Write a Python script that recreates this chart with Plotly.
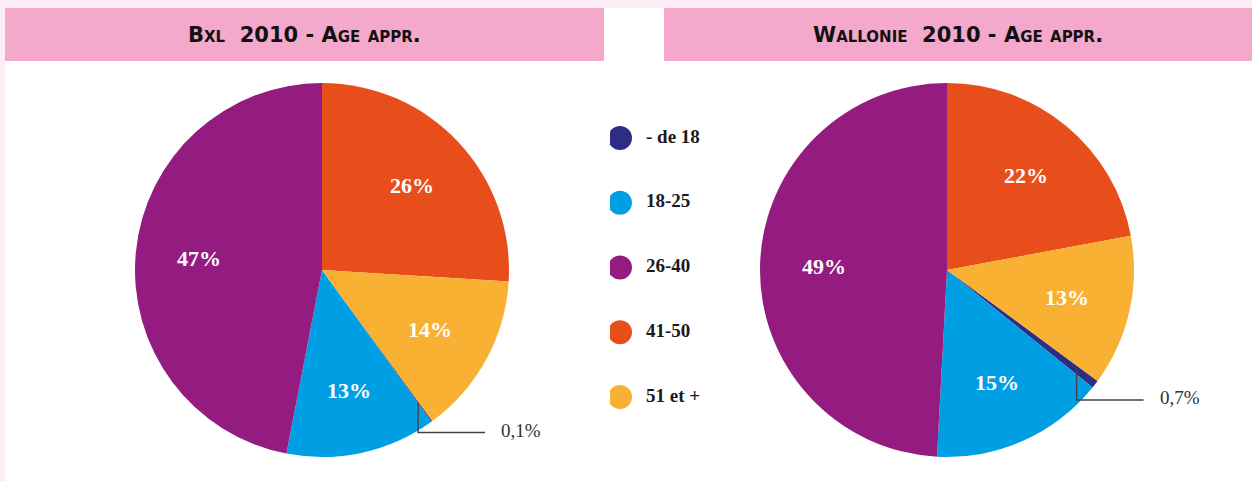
import math
import plotly.graph_objects as go

W, H = 1252, 481

# ── Data ─────────────────────────────────────────────────────────────────────
AGE_GROUPS = ["- de 18", "18-25", "26-40", "41-50", "51 et +"]
BXL_PCT = [0.1, 13, 47, 26, 14]
WAL_PCT = [0.7, 15, 49, 22, 13]
BXL_LABELS = ["0,1%", "13%", "47%", "26%", "14%"]
WAL_LABELS = ["0,7%", "15%", "49%", "22%", "13%"]
TITLES = ["Bxl  2010 - Age appr.", "Wallonie  2010 - Age appr."]

# ── Style ────────────────────────────────────────────────────────────────────
COLORS = ["#2e2d84", "#009fe3", "#941b80", "#e84e1b", "#f8b133"]
PAGE_PINK = "#fcecf5"
BAR_PINK = "#f4a8cb"
SERIF = "Liberation Serif, DejaVu Serif, serif"
TITLE_FONT = "DejaVu Sans, sans-serif"

PIE_R = 187
LABEL_R = 0.66
CENTERS = [(322, 270), (947, 270)]


def px_x(x):
    return x / W


def px_y(y):
    return 1 - y / H


def start_angle(values):
    # slices 41-50 and 51+ sit right of 12 o'clock, the list starts after them
    return 360 * (values[3] + values[4]) / sum(values)


def mid_angles(values):
    """Clockwise angle (deg from 12 o'clock) of each slice's middle."""
    total = sum(values)
    angle = start_angle(values)
    mids = []
    for v in values:
        span = 360 * v / total
        mids.append(angle + span / 2)
        angle += span
    return mids


def pie_trace(values, center):
    cx, cy = center
    return go.Pie(
        labels=AGE_GROUPS,
        values=values,
        textinfo="none",
        marker=dict(colors=COLORS, line=dict(width=0)),
        sort=False,
        direction="clockwise",
        rotation=start_angle(values),
        showlegend=False,
        hoverinfo="label+percent",
        domain=dict(
            x=[px_x(cx - PIE_R), px_x(cx + PIE_R)],
            y=[px_y(cy + PIE_R), px_y(cy - PIE_R)],
        ),
    )


def slice_labels(fig, values, labels, center):
    cx, cy = center
    mids = mid_angles(values)
    for v, lab, a in zip(values, labels, mids):
        if v < 1:
            continue
        a = math.radians(a)
        fig.add_annotation(
            text=lab,
            xref="paper", yref="paper",
            x=px_x(cx + PIE_R * LABEL_R * math.sin(a)),
            y=px_y(cy - PIE_R * LABEL_R * math.cos(a)),
            xanchor="center", yanchor="middle",
            showarrow=False,
            font=dict(family=SERIF, size=22, color="white", weight="bold"),
        )


def callout(fig, values, labels, center):
    """Leader line and label for the tiny first slice."""
    cx, cy = center
    mid = math.radians(mid_angles(values)[0])
    x0 = cx + PIE_R * 0.875 * math.sin(mid)
    y0 = cy - PIE_R * 0.875 * math.cos(mid)
    y1 = y0 + 30
    x1 = x0 + 67
    fig.add_shape(
        type="path",
        path=f"M {px_x(x0)},{px_y(y0)} L {px_x(x0)},{px_y(y1)} L {px_x(x1)},{px_y(y1)}",
        xref="paper", yref="paper",
        line=dict(color="#444444", width=1.5),
    )
    fig.add_annotation(
        text=labels[0],
        xref="paper", yref="paper",
        x=px_x(x1 + 14), y=px_y(y1 - 2),
        xanchor="left", yanchor="middle",
        showarrow=False,
        font=dict(family=SERIF, size=19, color="#333333"),
    )


fig = go.Figure()
fig.add_trace(pie_trace(BXL_PCT, CENTERS[0]))
fig.add_trace(pie_trace(WAL_PCT, CENTERS[1]))

# legend drawn as a scatter on a hidden axis
fig.add_trace(
    go.Scatter(
        x=[0] * len(AGE_GROUPS),
        y=list(range(len(AGE_GROUPS))),
        mode="markers",
        marker=dict(color=COLORS, size=24, line=dict(width=0)),
        showlegend=False,
        hoverinfo="skip",
    )
)
fig.add_trace(
    go.Scatter(
        x=[2.6] * len(AGE_GROUPS),
        y=list(range(len(AGE_GROUPS))),
        mode="text",
        text=AGE_GROUPS,
        textposition="middle right",
        textfont=dict(family=SERIF, size=19, color="#1a1a1a", weight="bold"),
        showlegend=False,
        hoverinfo="skip",
    )
)

slice_labels(fig, BXL_PCT, BXL_LABELS, CENTERS[0])
slice_labels(fig, WAL_PCT, WAL_LABELS, CENTERS[1])
callout(fig, BXL_PCT, BXL_LABELS, CENTERS[0])
callout(fig, WAL_PCT, WAL_LABELS, CENTERS[1])

# page background, title bars
fig.add_shape(type="rect", xref="paper", yref="paper", layer="below",
              x0=px_x(5), x1=1, y0=0, y1=px_y(8),
              fillcolor="white", line=dict(width=0))
for (x0, x1), title in zip([(5, 604), (664, 1252)], TITLES):
    fig.add_shape(type="rect", xref="paper", yref="paper", layer="below",
                  x0=px_x(x0), x1=px_x(x1), y0=px_y(61), y1=px_y(8),
                  fillcolor=BAR_PINK, line=dict(width=0))
    fig.add_annotation(
        text=title,
        xref="paper", yref="paper",
        x=px_x((x0 + x1) / 2), y=px_y(35),
        xanchor="center", yanchor="middle",
        showarrow=False,
        font=dict(family=TITLE_FONT, size=21, color="#111111",
                  weight="bold", variant="small-caps"),
    )

fig.update_layout(
    width=W,
    height=H,
    paper_bgcolor=PAGE_PINK,
    plot_bgcolor="rgba(0,0,0,0)",
    margin=dict(t=0, b=0, l=0, r=0),
    xaxis=dict(domain=[px_x(610), px_x(710)], range=[-1, 9], visible=False,
               fixedrange=True),
    yaxis=dict(domain=[0.1073, 0.7805], range=[4.5, -0.5], visible=False,
               fixedrange=True),
)

# page body has a default 8px margin; drop it so the figure sits at 0,0
fig.write_html(
    "out.html",
    config={"displayModeBar": False},
    post_script="document.body.style.margin='0';",
)
